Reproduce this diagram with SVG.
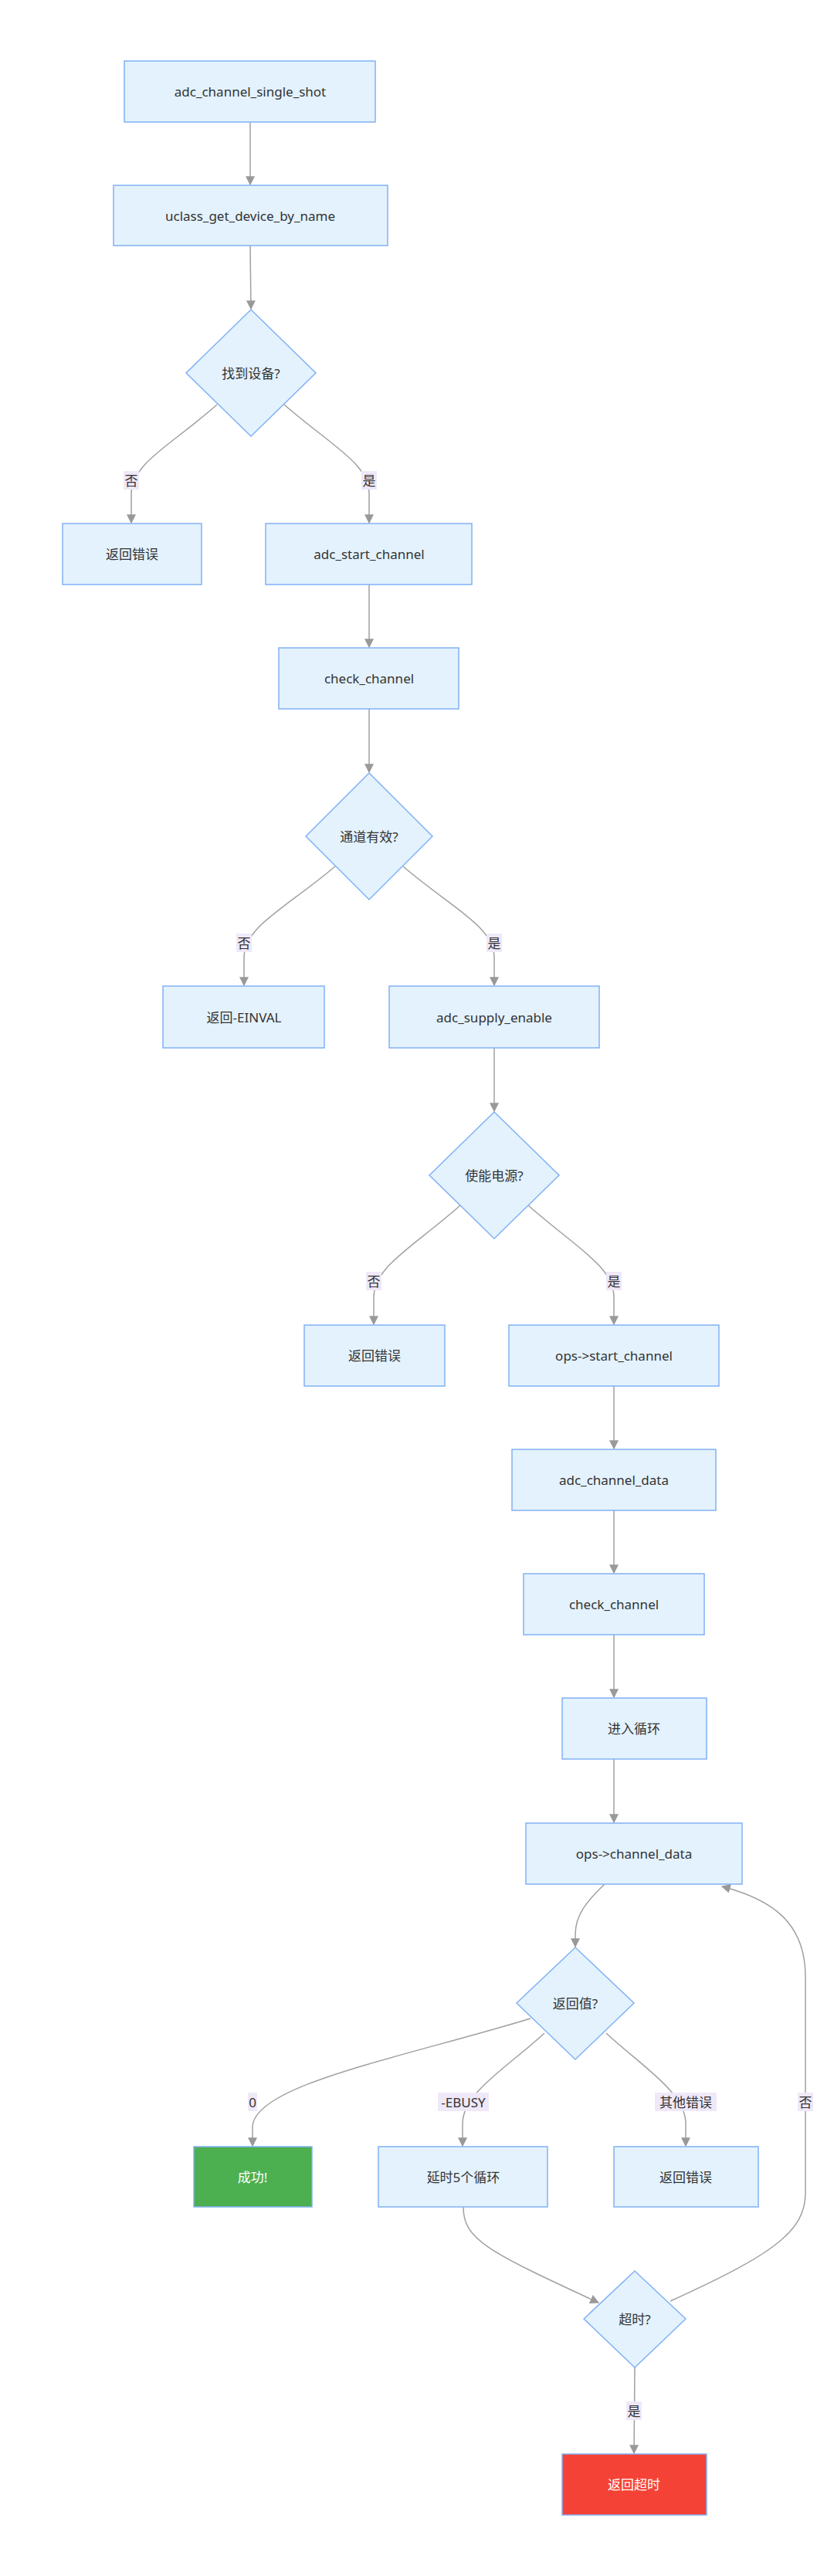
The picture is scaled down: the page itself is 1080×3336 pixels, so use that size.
<svg xmlns="http://www.w3.org/2000/svg" width="1080" height="3336" viewBox="0 0 1080 3336">
<style>
.n{fill:#e3f2fd;stroke:#82b1f5;stroke-width:1.5}
.t{font-family:"Noto Sans","Noto Sans CJK SC",sans-serif;font-size:17px;fill:#333;text-anchor:middle;dominant-baseline:central}
.w{fill:#fff}
.e{fill:none;stroke:#a0a0a0;stroke-width:1.5;marker-end:url(#a)}
.lb{fill:#efe8f8}
</style>
<defs><marker id="a" viewBox="0 0 10 10" refX="9" refY="5" markerWidth="8" markerHeight="8" orient="auto"><path d="M0,0L10,5L0,10z" fill="#999"/></marker></defs>
<rect width="1080" height="3336" fill="#fff"/>
<g id="edges">
<path class="e" d="M324,158L324,239"/>
<path class="e" d="M324,318L325,400"/>
<path class="e" d="M281,524C220,578 170,600 170,640L170,677"/>
<path class="e" d="M368,524C430,578 478,600 478,640L478,677"/>
<path class="e" d="M478,757L478,838"/>
<path class="e" d="M478,918L478,1000"/>
<path class="e" d="M434,1122C370,1176 316,1200 316,1240L316,1276"/>
<path class="e" d="M522,1122C585,1176 640,1200 640,1240L640,1276"/>
<path class="e" d="M640,1357L640,1439"/>
<path class="e" d="M596,1561C535,1615 484,1640 484,1680L484,1715"/>
<path class="e" d="M684,1561C745,1615 795,1640 795,1680L795,1715"/>
<path class="e" d="M795,1795L795,1876"/>
<path class="e" d="M795,1956L795,2037"/>
<path class="e" d="M795,2117L795,2198"/>
<path class="e" d="M795,2278L795,2360"/>
<path class="e" d="M783,2440C760,2462 745,2480 745,2505L745,2521"/>
<path class="e" d="M687,2614C520,2665 327,2700 327,2755L327,2779"/>
<path class="e" d="M705,2633C660,2675 599,2710 599,2750L599,2779"/>
<path class="e" d="M785,2633C830,2675 888,2710 888,2750L888,2779"/>
<path class="e" d="M600,2858C600,2900 630,2915 775,2982"/>
<path class="e" d="M868,2980C1000,2920 1043,2890 1043,2840L1043,2560C1043,2490 1000,2460 935,2443"/>
<path class="e" d="M822,3066L821,3177"/>
<rect class="lb" x="160" y="610" width="20" height="24"/><text class="t" x="170" y="622">否</text>
<rect class="lb" x="468" y="610" width="20" height="24"/><text class="t" x="478" y="622">是</text>
<rect class="lb" x="306" y="1209" width="20" height="24"/><text class="t" x="316" y="1221">否</text>
<rect class="lb" x="630" y="1209" width="20" height="24"/><text class="t" x="640" y="1221">是</text>
<rect class="lb" x="474" y="1647" width="20" height="24"/><text class="t" x="484" y="1659">否</text>
<rect class="lb" x="785" y="1647" width="20" height="24"/><text class="t" x="795" y="1659">是</text>
<rect class="lb" x="321" y="2710" width="12" height="24"/><text class="t" x="327" y="2722">0</text>
<rect class="lb" x="567" y="2710" width="66" height="24"/><text class="t" x="600" y="2722">-EBUSY</text>
<rect class="lb" x="848" y="2710" width="80" height="24"/><text class="t" x="888" y="2722">其他错误</text>
<rect class="lb" x="1033" y="2710" width="20" height="24"/><text class="t" x="1043" y="2722">否</text>
<rect class="lb" x="811" y="3110" width="20" height="24"/><text class="t" x="821" y="3122">是</text>
</g>
<g id="n1"><rect class="n" x="161" y="79" width="325" height="79"/><text class="t" x="324" y="118">adc_channel_single_shot</text></g>
<g id="n2"><rect class="n" x="147" y="240" width="355" height="78"/><text class="t" x="324" y="279">uclass_get_device_by_name</text></g>
<g id="d1"><polygon class="n" points="325,401 409,483 325,565 241,483"/><text class="t" x="325" y="483">找到设备?</text></g>
<g id="n3"><rect class="n" x="81" y="678" width="180" height="79"/><text class="t" x="171" y="717">返回错误</text></g>
<g id="n4"><rect class="n" x="344" y="678" width="267" height="79"/><text class="t" x="478" y="717">adc_start_channel</text></g>
<g id="n5"><rect class="n" x="361" y="839" width="233" height="79"/><text class="t" x="478" y="878">check_channel</text></g>
<g id="d2"><polygon class="n" points="478,1001 560,1083 478,1165 396,1083"/><text class="t" x="478" y="1083">通道有效?</text></g>
<g id="n6"><rect class="n" x="211" y="1277" width="209" height="80"/><text class="t" x="316" y="1317">返回-EINVAL</text></g>
<g id="n7"><rect class="n" x="504" y="1277" width="272" height="80"/><text class="t" x="640" y="1317">adc_supply_enable</text></g>
<g id="d3"><polygon class="n" points="640,1440 724,1522 640,1604 556,1522"/><text class="t" x="640" y="1522">使能电源?</text></g>
<g id="n8"><rect class="n" x="394" y="1716" width="182" height="79"/><text class="t" x="485" y="1755">返回错误</text></g>
<g id="n9"><rect class="n" x="659" y="1716" width="272" height="79"/><text class="t" x="795" y="1755">ops-&gt;start_channel</text></g>
<g id="n10"><rect class="n" x="663" y="1877" width="264" height="79"/><text class="t" x="795" y="1916">adc_channel_data</text></g>
<g id="n11"><rect class="n" x="678" y="2038" width="234" height="79"/><text class="t" x="795" y="2077">check_channel</text></g>
<g id="n12"><rect class="n" x="728" y="2199" width="187" height="79"/><text class="t" x="821" y="2238">进入循环</text></g>
<g id="n13"><rect class="n" x="681" y="2361" width="280" height="79"/><text class="t" x="821" y="2400">ops-&gt;channel_data</text></g>
<g id="d4"><polygon class="n" points="745,2522 821,2594 745,2667 669,2594"/><text class="t" x="745" y="2594">返回值?</text></g>
<g id="n14"><rect x="251" y="2780" width="153" height="78" fill="#4caf50" stroke="#82b1f5" stroke-width="1.5"/><text class="t w" x="327" y="2819">成功!</text></g>
<g id="n15"><rect class="n" x="490" y="2780" width="219" height="78"/><text class="t" x="600" y="2819">延时5个循环</text></g>
<g id="n16"><rect class="n" x="795" y="2780" width="187" height="78"/><text class="t" x="888" y="2819">返回错误</text></g>
<g id="d5"><polygon class="n" points="822,2941 888,3003 822,3066 756,3003"/><text class="t" x="822" y="3003">超时?</text></g>
<g id="n17"><rect x="728" y="3178" width="187" height="79" fill="#f44336" stroke="#82b1f5" stroke-width="1.5"/><text class="t w" x="821" y="3217">返回超时</text></g>
</svg>
